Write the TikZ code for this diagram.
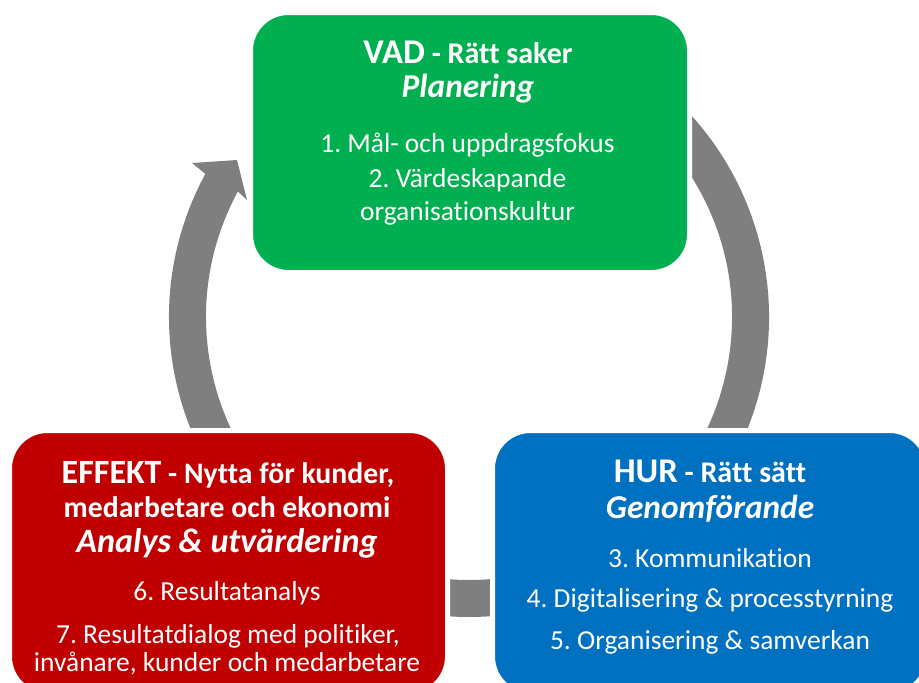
\documentclass[tikz,border=0pt]{standalone}
\usepackage{fontspec}
\setmainfont[Ligatures=NoCommon]{Carlito}
\usetikzlibrary{calc}
\definecolor{vadgreen}{HTML}{00B050}
\definecolor{effred}{HTML}{C00000}
\definecolor{hurblue}{HTML}{0070C0}
\definecolor{ringgray}{HTML}{7F7F7F}
\newcommand{\fs}[1]{\fontsize{#1}{#1}\selectfont}
\frenchspacing
\begin{document}
\begin{tikzpicture}[x=0.75pt,y=-0.75pt,
  box/.style={rounded corners=28.5pt, draw=white, line width=3.75pt, inner sep=0pt},
  txt/.style={anchor=base, text=white, inner sep=0pt},
  body/.style={txt, font=\fs{20.6pt}},
  ital/.style={txt, font=\bfseries\itshape\fs{25pt}},
  ring/.style={fill=ringgray}]
\useasboundingbox (0,0) rectangle (919,682);
\clip (0,0) rectangle (919,682);
\coordinate (C) at (469,317);
% ring arrows
\fill[ring] ($(C)+(-60:300)$) arc[start angle=-60,end angle=60,radius=300]
  -- ($(C)+(60:263)$) arc[start angle=60,end angle=-60,radius=263] -- cycle;
\fill[ring] ($(C)+(55:300)$) arc[start angle=55,end angle=125,radius=300]
  -- ($(C)+(125:263)$) arc[start angle=125,end angle=55,radius=263] -- cycle;
\fill[ring] ($(C)+(120:300)$) arc[start angle=120,end angle=208.5,radius=300]
  -- (192,163) -- (237,160) -- (247,200)
  -- ($(C)+(208.5:263)$) arc[start angle=208.5,end angle=120,radius=263] -- cycle;
% boxes
\node[box, fill=vadgreen, minimum width=329.25pt, minimum height=195pt] (vad) at (470,142.5) {};
\node[box, fill=effred, minimum width=328.5pt, minimum height=198pt] (eff) at (228.5,562.5) {};
\node[box, fill=hurblue, minimum width=326.25pt, minimum height=198pt] (hur) at (710,562.5) {};
% green texts
\node[txt, font=\bfseries] (vadt) at (468,63) {{\fs{26pt}VAD}{\fs{22.5pt} - Rätt saker}};
\node[ital] (vadp) at (468,97) {Planering};
\node[body] (vad1) at (467.5,152) {1. Mål- och uppdragsfokus};
\node[body] (vad2) at (467.5,187) {2. Värdeskapande};
\node[body] (vad3) at (467.5,220) {organisationskultur};
% red texts
\node[txt, font=\bfseries] (efft) at (228,483) {{\fs{25.5pt}EFFEKT}{\fs{22.3pt} - Nytta för kunder,}};
\node[txt, font=\bfseries\fs{22.3pt}] (efft2) at (227,517) {medarbetare och ekonomi};
\node[txt, font=\bfseries\itshape\fs{25.6pt}] (effa) at (227,552) {Analys \& utvärdering};
\node[body] (eff1) at (227,600) {6. Resultatanalys};
\node[body] (eff2) at (228,643) {7. Resultatdialog med politiker,};
\node[body] (eff3) at (227,671) {invånare, kunder och medarbetare};
% blue texts
\node[txt, font=\bfseries] (hurt) at (710,482) {{\fs{26pt}HUR}{\fs{22.5pt} - Rätt sätt}};
\node[ital] (hurg) at (710,518) {Genomförande};
\node[body] (hur1) at (710,567) {3. Kommunikation};
\node[body] (hur2) at (710,607) {4. Digitalisering \& processtyrning};
\node[body] (hur3) at (710,649) {5. Organisering \& samverkan};
\end{tikzpicture}
\end{document}
